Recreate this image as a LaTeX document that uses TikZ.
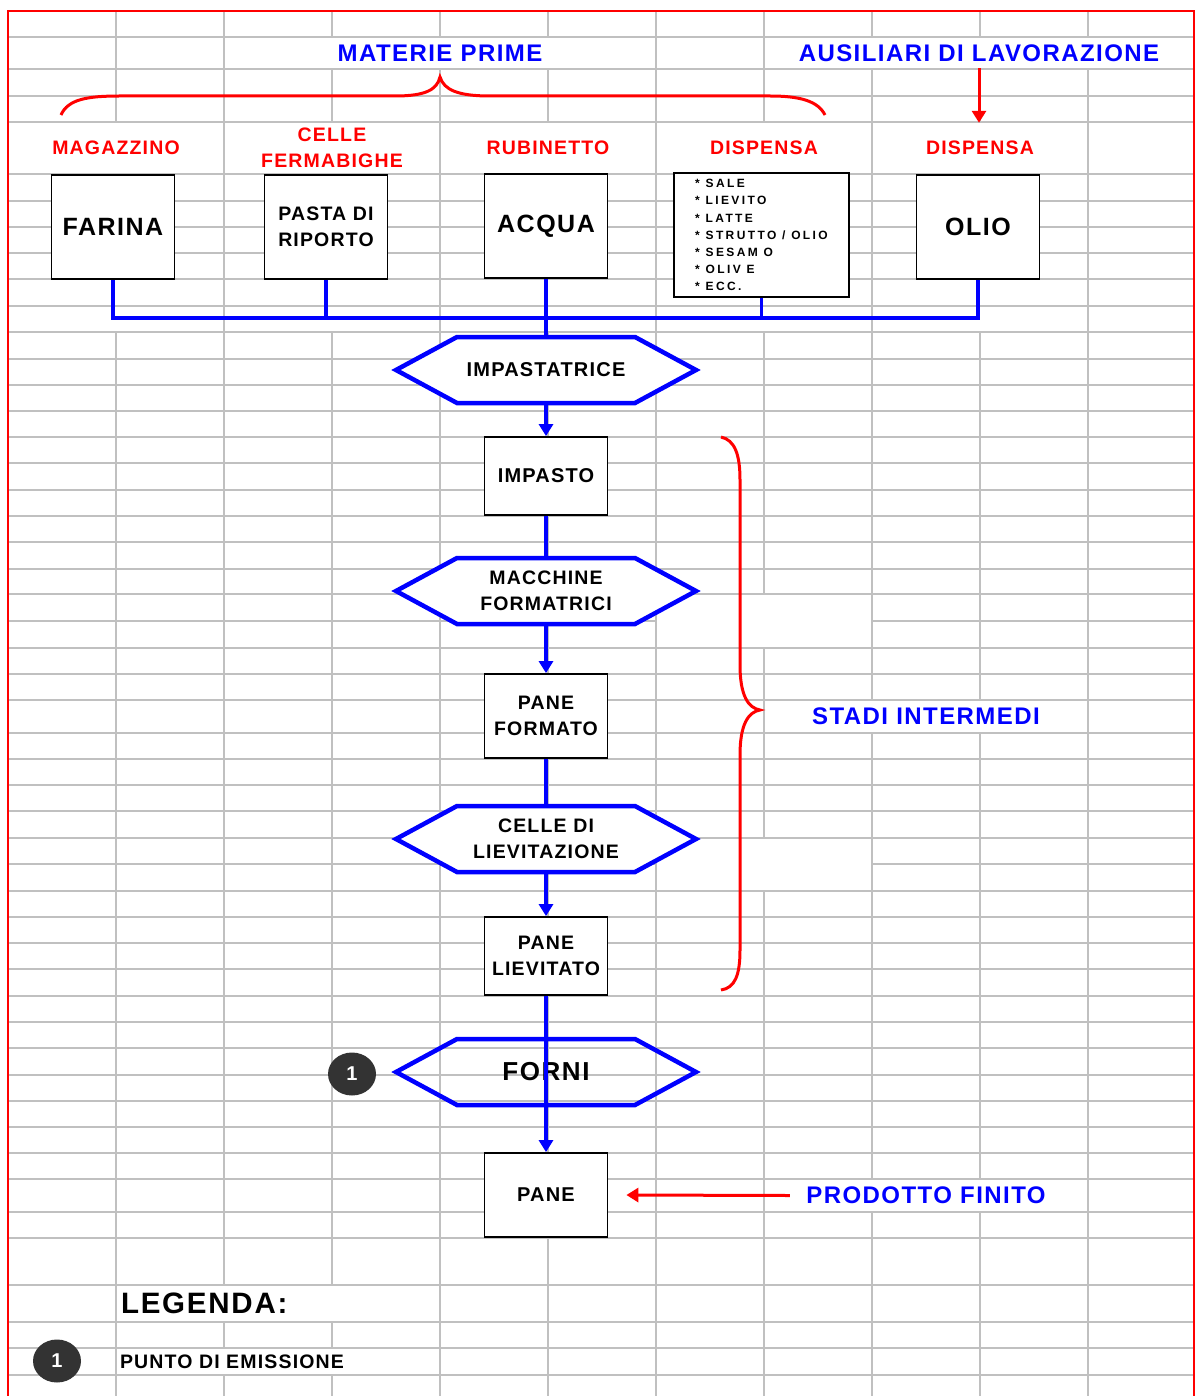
\documentclass[tikz,border=0pt]{standalone}
\usepackage{fontspec}
\setmainfont{Liberation Sans}[LetterSpace=6]
\newfontfamily\listfont{Liberation Sans}[LetterSpace=20]
\usetikzlibrary{arrows.meta,shapes.geometric}
\definecolor{gridgray}{HTML}{C0C0C0}
\definecolor{pureblue}{HTML}{0000FF}
\definecolor{purered}{HTML}{FF0000}
\definecolor{darkdot}{HTML}{333333}
\newcommand\hexpath[2][]{\path[hexline,#1,shift={#2}] (-150,0) -- (-89,-33) -- (89,-33) -- (150,0) -- (89,33) -- (-89,33) -- cycle;}
\begin{document}
\begin{tikzpicture}[x=1pt,y=-1pt,
  gridline/.style={gridgray, line width=1.8pt},
  cell/.style={fill=white, inner sep=0pt, align=center},
  titleblue/.style={text=pureblue, font=\fontsize{24}{29}\selectfont\bfseries},
  labelred/.style={text=purered, font=\fontsize{19.5}{26}\selectfont\bfseries},
  box/.style={draw=black, line width=1.8pt, fill=white, minimum width=123pt, inner sep=0pt, align=center},
  bigtext/.style={font=\fontsize{25}{30}\selectfont\bfseries},
  midtext/.style={font=\fontsize{19.5}{26}\selectfont\bfseries},
  hexline/.style={draw=pureblue, line width=4.5pt, line join=miter},
  hexnode/.style={minimum width=300pt, minimum height=66pt, inner sep=0pt, align=center},
  flow/.style={pureblue, line width=3.5pt},
  flowarrow/.style={flow, -{Triangle[length=12pt,width=14pt]}},
  redarrow/.style={purered, line width=3pt, -{Triangle[length=12pt,width=14pt]}},
  bracestyle/.style={purered, line width=3pt},
  dot/.style={ellipse, fill=darkdot, text=white, inner sep=0pt, minimum width=48pt, minimum height=43pt, font=\fontsize{20}{24}\selectfont\bfseries}
]
\useasboundingbox (0,0) rectangle (1196,1396);
\fill[white] (0,0) rectangle (1196,1396);
% grid
\foreach \y in {37,69,96,122,174,201,227,253,279,306,332,359,385,411,437,463,490,516,542,569,594,648,674,700,733,759,785,811,838,891,917,943,969,996,1022,1048,1075,1101,1127,1153,1179,1212,1238,1285,1322,1348,1375}
  \draw[gridline] (8,\y) -- (1194,\y);
\foreach \y in {621,864} {\draw[gridline] (8,\y) -- (656,\y); \draw[gridline] (872,\y) -- (1194,\y);}
\foreach \x in {224,440,656,872,1088} \draw[gridline] (\x,11) -- (\x,1396);
\foreach \x in {116,332,548,980} {\draw[gridline] (\x,11) -- (\x,174); \draw[gridline] (\x,332) -- (\x,1396);}
\draw[gridline] (764,11) -- (764,174) (764,332) -- (764,594) (764,648) -- (764,838) (764,891) -- (764,1396);
% red frame
\draw[purered, line width=2pt] (8,1396) -- (8,11) -- (1194,11) -- (1194,1396);
% header cells
\node[cell, minimum width=430pt, minimum height=30pt, titleblue] (materie) at (440,53) {MATERIE PRIME};
\node[cell, minimum width=428pt, minimum height=30pt, titleblue] (ausiliari) at (979,53) {AUSILIARI DI LAVORAZIONE};
\node[cell, minimum width=214pt, minimum height=50pt, labelred] (magazzino) at (116,148) {MAGAZZINO};
\node[cell, minimum width=214pt, minimum height=50pt, labelred] (cellelab) at (332,148) {CELLE\\FERMABIGHE};
\node[cell, minimum width=214pt, minimum height=50pt, labelred] (rubinetto) at (548,148) {RUBINETTO};
\node[cell, minimum width=214pt, minimum height=50pt, labelred] (dispensa1) at (764,148) {DISPENSA};
\node[cell, minimum width=214pt, minimum height=50pt, labelred] (dispensa2) at (980,148) {DISPENSA};
\node[cell, minimum width=322pt, minimum height=31pt, titleblue] (stadi) at (926,716.5) {STADI INTERMEDI};
\node[cell, minimum width=322pt, minimum height=31pt, titleblue] (prodotto) at (926,1195.5) {PRODOTTO FINITO};
\node[cell, minimum width=322pt, minimum height=35pt, text width=314pt, inner xsep=4pt, align=left, font=\fontsize{29.5}{33}\selectfont\bfseries] (legenda) at (278,1303.5) {LEGENDA:};
\node[cell, minimum width=322pt, minimum height=25pt, text width=316pt, inner xsep=3pt, align=left, font=\fontsize{19.5}{22}\selectfont\bfseries] (punto) at (278,1361.5) {PUNTO DI EMISSIONE};
% braces
\draw[bracestyle] (61,115) .. controls (68,99) and (88,96) .. (120,96) -- (395,96) .. controls (425,96) and (437,90) .. (440,77) .. controls (444,90) and (458,96) .. (490,96) -- (770,96) .. controls (800,96) and (818,101) .. (825,115);
\draw[bracestyle] (721,437) .. controls (735,440) and (740,455) .. (740,480) -- (740,665) .. controls (740,695) and (748,708) .. (760,710) .. controls (748,712) and (740,725) .. (740,755) -- (740,950) .. controls (740,975) and (735,988) .. (721,990);
\draw[redarrow] (ausiliari.south) -- (ausiliari.south |- dispensa2.north);
% raw material boxes
\node[box, minimum height=104pt, bigtext] (farina) at (113,227) {FARINA};
\node[box, minimum height=104pt, midtext] (pasta) at (326,227) {PASTA DI\\RIPORTO};
\node[box, minimum height=104pt, bigtext] (acqua) at (546,226) {ACQUA};
\node[box, minimum width=175pt, minimum height=124pt] (dispensabox) at (761.5,235) {};
\node[anchor=west, align=left, inner sep=0pt, font=\listfont\bfseries\fontsize{12}{17.1}\selectfont] (dispensalist) at (695,235) {* SALE\\* LIEVITO\\* LATTE\\* STRUTTO / OLIO\\* SESAM O\\* OLIV E\\* ECC.};
\node[box, minimum height=104pt, bigtext] (olio) at (978,227) {OLIO};
% bus
\coordinate (bus) at (546,318);
\draw[flow] (farina.south) |- (bus);
\draw[flow] (olio.south) |- (bus);
\draw[flow] (pasta.south) |- (bus);
\draw[flow] (dispensabox.south) |- (bus);
% process
\hexpath[fill=white]{(546,370)}
\node[hexnode, font=\fontsize{20}{24}\selectfont\bfseries] (impastatrice) at (546,370) {IMPASTATRICE};
\draw[flow] (acqua.south) -- (impastatrice.north);
\node[box, minimum height=78pt, font=\fontsize{20}{24}\selectfont\bfseries] (impasto) at (546,476) {IMPASTO};
\hexpath[fill=white]{(546,591)}
\node[hexnode, midtext] (macchine) at (546,591) {MACCHINE\\FORMATRICI};
\node[box, minimum height=84pt, midtext] (paneformato) at (546,716) {PANE\\FORMATO};
\hexpath[fill=white]{(546,839)}
\node[hexnode, midtext] (celle) at (546,839) {CELLE DI\\LIEVITAZIONE};
\node[box, minimum height=78pt, midtext] (panelievitato) at (546,956) {PANE\\LIEVITATO};
\hexpath{(546,1072)}
\node[hexnode, font=\fontsize{26}{30}\selectfont\bfseries] (forni) at (546,1072) {FORNI};
\node[box, minimum height=84pt, font=\fontsize{20}{24}\selectfont\bfseries] (pane) at (546,1195) {PANE};
\draw[flowarrow] (impastatrice.south) -- (impasto.north);
\draw[flow] (impasto.south) -- (macchine.north);
\draw[flowarrow] (macchine.south) -- (paneformato.north);
\draw[flow] (paneformato.south) -- (celle.north);
\draw[flowarrow] (celle.south) -- (panelievitato.north);
\draw[flowarrow] (panelievitato.south) -- (pane.north);
\draw[redarrow] ([xshift=25pt]prodotto.west) -- ([xshift=18pt]pane.east);
% emission points
\node[dot] (emission) at (352,1074) {1};
\node[dot] (legenddot) at (57,1361) {1};
\end{tikzpicture}
\end{document}
